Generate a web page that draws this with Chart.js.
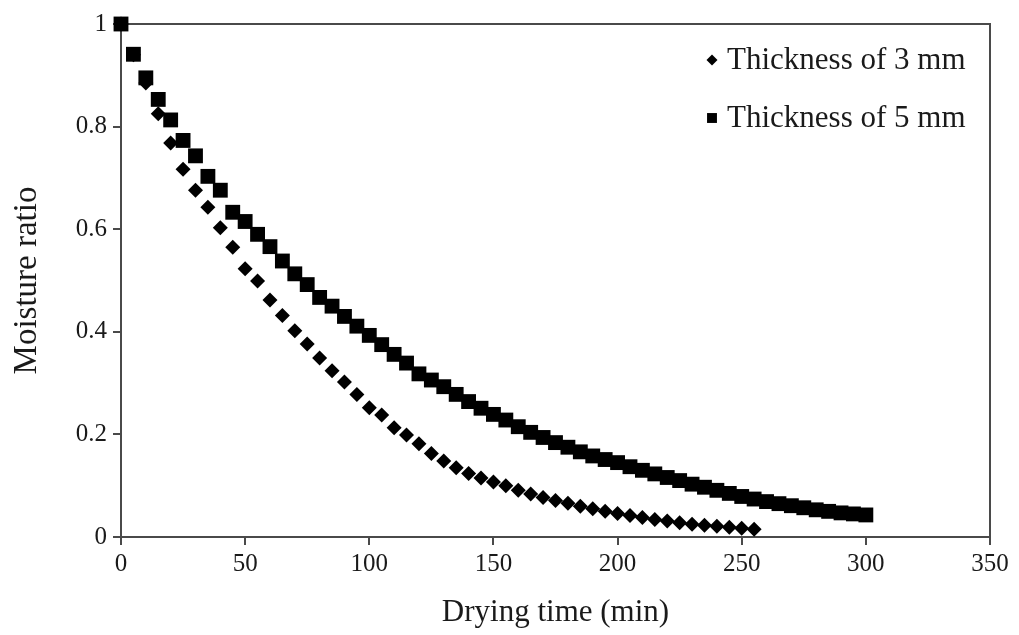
<!DOCTYPE html>
<html>
<head>
<meta charset="utf-8">
<script src="https://cdn.jsdelivr.net/npm/chart.js@4/dist/chart.umd.min.js"></script>
<style>
  html, body { margin: 0; padding: 0; background: #fff; }
  #wrap { width: 1019px; height: 635px; position: relative; }
</style>
</head>
<body>
<div id="wrap"><canvas id="DryChart"></canvas></div>
<script>
// drying time (min), readings every 5 min
const time3mm = [];
for (let t = 0; t <= 255; t += 5) time3mm.push(t);
const time5mm = [];
for (let t = 0; t <= 300; t += 5) time5mm.push(t);

// moisture ratio
const mr3mm = [
    1.000, 0.940, 0.885, 0.825, 0.768, 0.717, 0.676, 0.643, 0.603, 0.565,
    0.523, 0.499, 0.462, 0.432, 0.402, 0.376, 0.349, 0.324, 0.302, 0.278,
    0.252, 0.238, 0.213, 0.199, 0.182, 0.163, 0.148, 0.135, 0.124, 0.115,
    0.107, 0.100, 0.091, 0.084, 0.077, 0.071, 0.066, 0.060, 0.055, 0.050,
    0.046, 0.042, 0.038, 0.034, 0.031, 0.028, 0.025, 0.023, 0.021, 0.019,
    0.017, 0.015
];
const mr5mm = [
    1.000, 0.941, 0.895, 0.853, 0.813, 0.773, 0.743, 0.703, 0.676, 0.633,
    0.615, 0.590, 0.566, 0.538, 0.513, 0.492, 0.467, 0.450, 0.430, 0.411,
    0.393, 0.375, 0.356, 0.339, 0.318, 0.306, 0.293, 0.278, 0.264, 0.251,
    0.239, 0.228, 0.215, 0.204, 0.194, 0.184, 0.175, 0.166, 0.158, 0.151,
    0.145, 0.137, 0.130, 0.123, 0.116, 0.110, 0.103, 0.097, 0.091, 0.085,
    0.079, 0.074, 0.069, 0.065, 0.061, 0.057, 0.053, 0.050, 0.047, 0.045,
    0.043
];

const xTicks = [0, 50, 100, 150, 200, 250, 300, 350];
const yTicks = [0, 0.2, 0.4, 0.6, 0.8, 1];
const seriesLabels = ['Thickness of 3 mm', 'Thickness of 5 mm'];

const serif = "'Liberation Serif', 'DejaVu Serif', serif";
const axisColor = '#4a4a4a';
const textColor = '#1a1a1a';

const toPoints = (xs, ys) => xs.map((x, i) => ({ x, y: ys[i] }));

// setup block
const data = {
    datasets: [
        {
            label: seriesLabels[0],
            data: toPoints(time3mm, mr3mm),
            pointStyle: 'rectRot',
            pointRadius: 7.5,
            backgroundColor: '#000',
            borderColor: '#000',
            borderWidth: 0,
            showLine: false,
            clip: false,
            order: 1
        },
        {
            label: seriesLabels[1],
            data: toPoints(time5mm, mr5mm),
            pointStyle: 'rect',
            pointRadius: 10.5,
            backgroundColor: '#000',
            borderColor: '#000',
            borderWidth: 0,
            showLine: false,
            clip: false,
            order: 0
        }
    ]
};

// box round the plot area (top + right edges)
const frame = {
    id: 'frame',
    beforeDatasetsDraw(chart) {
        const { ctx, chartArea: a } = chart;
        ctx.save();
        ctx.strokeStyle = axisColor;
        ctx.lineWidth = 2;
        ctx.strokeRect(a.left, a.top, a.right - a.left, a.bottom - a.top);
        ctx.restore();
    }
};

// legend sitting inside the plot, top right
const insideLegend = {
    id: 'insideLegend',
    afterDraw(chart) {
        const { ctx } = chart;
        const x0 = 712, y0 = 60, rowGap = 58;
        ctx.save();
        ctx.font = '31px ' + serif;
        ctx.textBaseline = 'middle';
        chart.data.datasets.forEach((ds, i) => {
            const y = y0 + i * rowGap;
            ctx.fillStyle = '#000';
            Chart.helpers.drawPoint(ctx, {
                pointStyle: ds.pointStyle,
                radius: ds.pointStyle === 'rect' ? 7 : 5.5,
                rotation: 0,
                borderWidth: 0
            }, x0, y);
            ctx.fillStyle = textColor;
            ctx.fillText(ds.label, x0 + 15, y + 1);
        });
        ctx.restore();
    }
};

// config block
const config = {
    type: 'scatter',
    data,
    options: {
        responsive: true,
        maintainAspectRatio: false,
        animation: false,
        layout: { padding: { top: 24, right: 29, left: 0, bottom: 0 } },
        scales: {
            x: {
                type: 'linear',
                min: 0,
                max: 350,
                afterBuildTicks: s => { s.ticks = xTicks.map(v => ({ value: v })); },
                afterFit: s => { s.height = 98; },
                grid: {
                    drawOnChartArea: false,
                    color: axisColor,
                    lineWidth: 2,
                    tickLength: 8
                },
                border: { color: axisColor, width: 2 },
                ticks: {
                    color: textColor,
                    font: { family: serif, size: 25 },
                    padding: 4,
                    maxRotation: 0
                },
                title: {
                    display: true,
                    text: 'Drying time (min)',
                    color: textColor,
                    font: { family: serif, size: 31 },
                    padding: { top: 12 }
                }
            },
            y: {
                type: 'linear',
                min: 0,
                max: 1,
                afterBuildTicks: s => { s.ticks = yTicks.map(v => ({ value: v })); },
                afterFit: s => { s.width = 121; },
                grid: {
                    drawOnChartArea: false,
                    color: axisColor,
                    lineWidth: 2,
                    tickLength: 8
                },
                border: { color: axisColor, width: 2 },
                ticks: {
                    color: textColor,
                    font: { family: serif, size: 25 },
                    padding: 6,
                    callback: v => String(v)
                },
                title: {
                    display: true,
                    text: 'Moisture ratio',
                    color: textColor,
                    font: { family: serif, size: 33 },
                    padding: { top: 8, bottom: 0 }
                }
            }
        },
        plugins: {
            legend: { display: false },
            tooltip: { enabled: false }
        }
    },
    plugins: [frame, insideLegend]
};

// render init block
const dryChart = new Chart(document.getElementById('DryChart'), config);
</script>
</body>
</html>
